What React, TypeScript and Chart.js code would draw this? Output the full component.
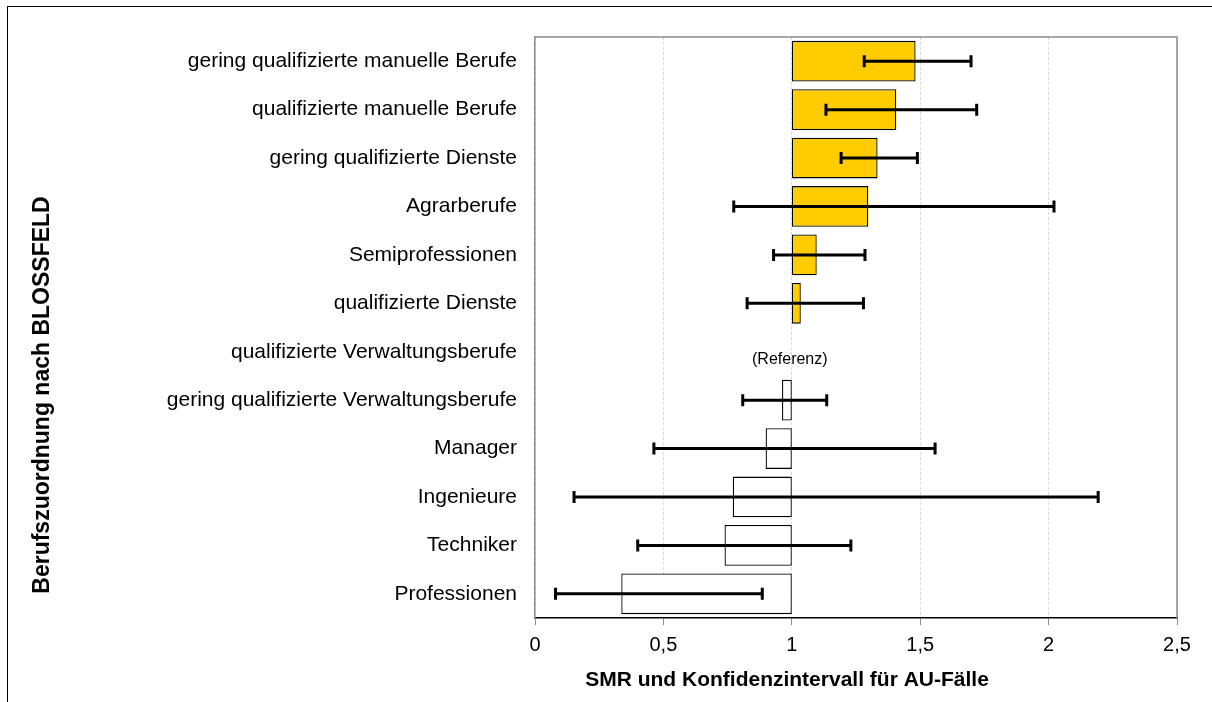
import React, { useEffect, useRef } from "react";
import { Chart, registerables } from "chart.js";

Chart.register(...registerables);

const categories = [
  "gering qualifizierte manuelle Berufe",
  "qualifizierte manuelle Berufe",
  "gering qualifizierte Dienste",
  "Agrarberufe",
  "Semiprofessionen",
  "qualifizierte Dienste",
  "qualifizierte Verwaltungsberufe",
  "gering qualifizierte Verwaltungsberufe",
  "Manager",
  "Ingenieure",
  "Techniker",
  "Professionen",
];

const smr: (number | null)[] = [1.482, 1.407, 1.334, 1.298, 1.097, 1.035, null, 0.962, 0.898, 0.77, 0.738, 0.336];
const ciLow: (number | null)[] = [1.282, 1.133, 1.192, 0.774, 0.929, 0.826, null, 0.809, 0.463, 0.152, 0.4, 0.08];
const ciHigh: (number | null)[] = [1.698, 1.72, 1.489, 2.021, 1.285, 1.279, null, 1.136, 1.558, 2.193, 1.23, 0.885];

const referenceValue = 1;
const referenceIndex = 6;
const referenceLabel = "(Referenz)";
const xTitle = "SMR und Konfidenzintervall für AU-Fälle";
const yTitle = "Berufszuordnung nach BLOSSFELD";
const xTicks = [0, 0.5, 1, 1.5, 2, 2.5];

const FONT = "'Liberation Sans', Arial, sans-serif";

const overlayPlugin = {
  id: "overlay",
  afterDatasetsDraw(chart: any) {
    const { ctx, chartArea, scales } = chart;
    const x = scales.x;
    const y = scales.y;
    ctx.save();
    // error bars
    ctx.strokeStyle = "#000";
    ctx.lineWidth = 3;
    ctx.lineCap = "butt";
    for (let i = 0; i < categories.length; i++) {
      const lo = ciLow[i];
      const hi = ciHigh[i];
      if (lo == null || hi == null) continue;
      const yc = y.getPixelForValue(i);
      const x1 = x.getPixelForValue(lo);
      const x2 = x.getPixelForValue(hi);
      ctx.beginPath();
      ctx.moveTo(x1, yc);
      ctx.lineTo(x2, yc);
      ctx.moveTo(x1, yc - 6);
      ctx.lineTo(x1, yc + 6);
      ctx.moveTo(x2, yc - 6);
      ctx.lineTo(x2, yc + 6);
      ctx.stroke();
    }
    // reference label
    ctx.fillStyle = "#000";
    ctx.font = `16px ${FONT}`;
    ctx.textAlign = "center";
    ctx.textBaseline = "middle";
    ctx.fillText(referenceLabel, x.getPixelForValue(referenceValue) - 2, y.getPixelForValue(referenceIndex) + 8);
    // frame top / right
    ctx.strokeStyle = "#8c8c8c";
    ctx.lineWidth = 1.5;
    ctx.beginPath();
    ctx.moveTo(chartArea.left, chartArea.top);
    ctx.lineTo(chartArea.right, chartArea.top);
    ctx.lineTo(chartArea.right, chartArea.bottom);
    ctx.stroke();
    // titles
    ctx.fillStyle = "#000";
    ctx.textAlign = "center";
    ctx.textBaseline = "middle";
    ctx.font = `bold 21px ${FONT}`;
    ctx.fillText(xTitle, 787, 680);
    ctx.font = `bold 23px ${FONT}`;
    ctx.translate(43, 395);
    ctx.rotate(-Math.PI / 2);
    ctx.fillText(yTitle, 0, 0);
    ctx.restore();
  },
};

export default function App() {
  const ref = useRef<HTMLCanvasElement>(null);
  useEffect(() => {
    if (!ref.current) return;
    const data = smr.map((v) => (v == null ? null : [Math.min(referenceValue, v), Math.max(referenceValue, v)]));
    const colors = smr.map((v) => (v != null && v > referenceValue ? "#FFCC00" : "#FFFFFF"));
    const chart = new Chart(ref.current, {
      type: "bar",
      data: {
        labels: categories,
        datasets: [
          {
            data: data as any,
            backgroundColor: colors,
            borderColor: "#000",
            borderWidth: 1.3,
            borderSkipped: false,
            barPercentage: 0.84,
            categoryPercentage: 1,
          },
        ],
      },
      options: {
        indexAxis: "y",
        animation: false,
        responsive: true,
        maintainAspectRatio: false,
        layout: { padding: { top: 37, right: 35, left: 0, bottom: 0 } },
        plugins: { legend: { display: false }, tooltip: { enabled: false }, title: { display: false } },
        scales: {
          x: {
            type: "linear",
            min: 0,
            max: 2.5,
            afterBuildTicks: (scale: any) => {
              scale.ticks = xTicks.map((v) => ({ value: v }));
            },
            afterFit: (scale: any) => {
              scale.height = 84;
            },
            ticks: {
              color: "#000",
              font: { family: FONT, size: 20 },
              padding: 8,
              maxRotation: 0,
              callback: (v: any) => String(v).replace(".", ","),
            },
            grid: {
              color: "#d9d9d9",
              lineWidth: 1,
              drawTicks: true,
              tickLength: 7,
              tickColor: "#8c8c8c",
            },
            border: { display: true, color: "#000", width: 1.5, dash: [3, 2] },
          },
          y: {
            type: "category",
            afterFit: (scale: any) => {
              scale.width = 535;
            },
            ticks: {
              color: "#000",
              font: { family: FONT, size: 21 },
              padding: 18,
            },
            grid: { display: true, color: "rgba(0,0,0,0)", drawTicks: false },
            border: { display: true, color: "#8c8c8c", width: 1.5 },
          },
        },
      },
      plugins: [overlayPlugin],
    });
    return () => chart.destroy();
  }, []);
  return (
    <div style={{ position: "fixed", left: 0, top: 0, width: 1212, height: 702, background: "#fff" }}>
      <div
        style={{
          position: "absolute",
          left: 7,
          top: 6,
          right: 0,
          bottom: 0,
          borderTop: "1.5px solid #000",
          borderLeft: "1.5px solid #000",
        }}
      />
      <div style={{ position: "absolute", left: 0, top: 0, width: 1212, height: 702 }}>
        <canvas ref={ref} />
      </div>
    </div>
  );
}
